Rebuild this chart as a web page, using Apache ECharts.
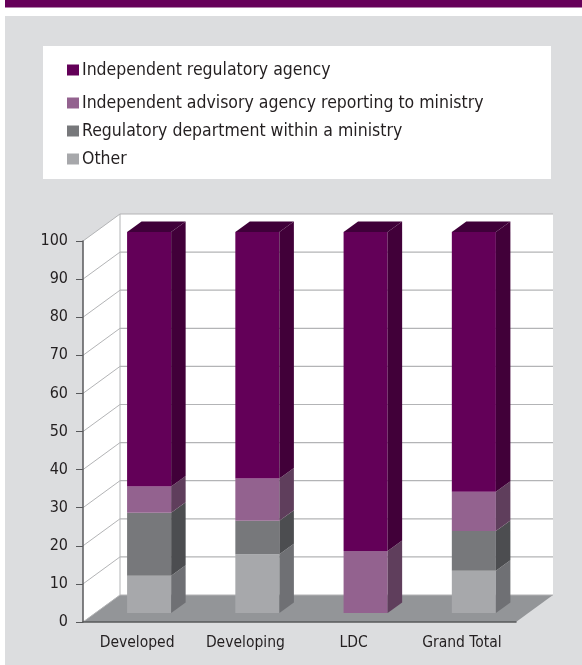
<!DOCTYPE html>
<html lang="en">
<head>
<meta charset="UTF-8">
<title>Regulatory structure</title>
<script src="https://cdn.jsdelivr.net/npm/echarts@6/dist/echarts.min.js"></script>
<style>
  html, body { margin: 0; padding: 0; background: #fff; }
  #chart { width: 582px; height: 665px; }
</style>
</head>
<body>
<div id="chart"></div>
<script>
var categories = ['Developed', 'Developing', 'LDC', 'Grand Total'];
var seriesNames = [
    'Independent regulatory agency',
    'Independent advisory agency reporting to ministry',
    'Regulatory department within a ministry',
    'Other'
];
// values per category (percent)
var independentReg = [66.8, 64.7, 83.7, 68.2];
var independentAdv = [6.9, 11.1, 16.3, 10.3];
var regDept = [16.5, 8.8, 0, 10.4];
var other = [9.8, 15.4, 0, 11.1];
var yTicks = [0, 10, 20, 30, 40, 50, 60, 70, 80, 90, 100];

// face colours: front, side, top
var faces = [
    ['#630058', '#410039', '#3f0039'],
    ['#93628f', '#5f3e5c', '#5f3e5c'],
    ['#77787b', '#4c4d50', '#4c4d50'],
    ['#a7a8ab', '#6f7074', '#6f7074']
];

var FONT = "'Liberation Sans Narrow', 'DejaVu Sans Condensed', sans-serif";
var WALL = [37, -27];   // depth of the back wall
var BAR_AT = [12, -9];  // where bar fronts sit on the floor
var BAR_D = [14.5, -10.5];

var dom = document.getElementById('chart');
var myChart = echarts.init(dom);

// bottom-to-top stacking order
var stackOrder = [other, regDept, independentAdv, independentReg];
var stackNames = [seriesNames[3], seriesNames[2], seriesNames[1], seriesNames[0]];
var stackFaces = [faces[3], faces[2], faces[1], faces[0]];

function barRenderer(col, isTop) {
    return function (params, api) {
        var lo = api.value(1), hi = api.value(2);
        if (hi - lo <= 0) return null;
        var b = api.coord([api.value(0), lo]);
        var t = api.coord([api.value(0), hi]);
        var cw = api.size([1, 0])[0];
        var xl = b[0] - cw * 0.102 - 11 + BAR_AT[0];
        var xr = xl + cw * 0.407;
        var yb = b[1] + BAR_AT[1];
        var yt = t[1] + BAR_AT[1];
        var kids = [
            { type: 'rect', shape: { x: xl, y: yt, width: xr - xl, height: yb - yt }, style: { fill: col[0] } },
            { type: 'polygon', shape: { points: [[xr, yt], [xr + BAR_D[0], yt + BAR_D[1]], [xr + BAR_D[0], yb + BAR_D[1]], [xr, yb]] }, style: { fill: col[1] } }
        ];
        if (isTop) {
            kids.push({ type: 'polygon', shape: { points: [[xl, yt], [xl + BAR_D[0], yt + BAR_D[1]], [xr + BAR_D[0], yt + BAR_D[1]], [xr, yt]] }, style: { fill: col[2] } });
        }
        return { type: 'group', children: kids };
    };
}

function renderFrame(params, api) {
    var cs = params.coordSys;
    var y = api.coord([0, api.value(1)])[1];
    var x0 = cs.x, x1 = cs.x + cs.width;
    var kids = [];
    if (params.dataIndex === 0) {
        var yTop = cs.y, yBot = cs.y + cs.height;
        kids.push({ type: 'polygon', shape: { points: [[x0, yTop], [x0 + WALL[0], yTop + WALL[1]], [x0 + WALL[0], yBot + WALL[1]], [x0, yBot]] }, style: { fill: '#fff' } });
        kids.push({ type: 'rect', shape: { x: x0 + WALL[0], y: yTop + WALL[1], width: cs.width, height: cs.height }, style: { fill: '#fff' } });
        kids.push({ type: 'polygon', shape: { points: [[x0, yBot], [x0 + WALL[0], yBot + WALL[1]], [x1 + WALL[0], yBot + WALL[1]], [x1, yBot]] }, style: { fill: '#939598' } });
        kids.push({ type: 'line', shape: { x1: x0 + WALL[0], y1: yTop + WALL[1], x2: x0 + WALL[0], y2: yBot + WALL[1] }, style: { stroke: '#b3b4b6', lineWidth: 1 } });
    }
    kids.push({ type: 'line', shape: { x1: x0 + WALL[0], y1: y + WALL[1], x2: x1 + WALL[0], y2: y + WALL[1] }, style: { stroke: '#b3b4b6', lineWidth: 1.2 } });
    kids.push({ type: 'line', shape: { x1: x0, y1: y, x2: x0 + WALL[0], y2: y + WALL[1] }, style: { stroke: '#b3b4b6', lineWidth: 1 } });
    return { type: 'group', children: kids };
}

var series = [{
    type: 'custom',
    name: 'frame',
    silent: true,
    z: 1,
    renderItem: renderFrame,
    encode: { x: 0, y: 1 },
    data: yTicks.map(function (v) { return [0, v]; })
}];

for (var s = 0; s < stackOrder.length; s++) {
    var rows = [];
    for (var c = 0; c < categories.length; c++) {
        var lo = 0;
        for (var k = 0; k < s; k++) lo += stackOrder[k][c];
        rows.push([c, lo, lo + stackOrder[s][c]]);
    }
    series.push({
        type: 'custom',
        name: stackNames[s],
        z: 2,
        itemStyle: { color: stackFaces[s][0] },
        renderItem: barRenderer(stackFaces[s], s === stackOrder.length - 1),
        encode: { x: 0, y: [1, 2] },
        data: rows
    });
}

var legendTops = [55, 88, 116, 144];
var legends = seriesNames.map(function (n, i) {
    return {
        data: [n],
        left: 62,
        top: legendTops[i],
        icon: 'rect',
        itemWidth: 12,
        itemHeight: 11,
        itemGap: 4,
        selectedMode: false,
        textStyle: { fontFamily: FONT, fontSize: 17.5, color: '#231f20', lineHeight: 20, padding: [0, 0, 0, -2] }
    };
});

var option = {
    backgroundColor: '#dcdddf',
    animation: false,
    graphic: [
        { type: 'rect', z: 0, shape: { x: 0, y: 0, width: 582, height: 16 }, style: { fill: '#fff' } },
        { type: 'rect', z: 0, shape: { x: 0, y: 0, width: 5, height: 665 }, style: { fill: '#fff' } },
        { type: 'rect', z: 1, shape: { x: 5, y: 0, width: 577, height: 7.5 }, style: { fill: '#660059' } },
        { type: 'rect', z: 0, shape: { x: 43, y: 46, width: 508, height: 133 }, style: { fill: '#fff' } }
    ],
    legend: legends,
    grid: { left: 83, right: 66, top: 241, bottom: 43 },
    xAxis: {
        type: 'category',
        data: categories,
        z: 5,
        axisLine: { lineStyle: { color: '#58595b', width: 1.5 } },
        axisTick: { length: 7, lineStyle: { color: '#58595b' } },
        axisLabel: { interval: 0, fontFamily: FONT, fontSize: 15.5, color: '#231f20', margin: 13 }
    },
    yAxis: {
        type: 'value',
        min: 0,
        max: 100,
        interval: 10,
        z: 5,
        axisLine: { show: true, lineStyle: { color: '#58595b', width: 1.5 } },
        axisTick: { show: true, length: 7, lineStyle: { color: '#58595b' } },
        splitLine: { show: false },
        axisLabel: { fontFamily: FONT, fontSize: 16, color: '#231f20', margin: 15 }
    },
    series: series
};

if (option && typeof option === 'object') {
    myChart.setOption(option, true);
}
</script>
</body>
</html>
